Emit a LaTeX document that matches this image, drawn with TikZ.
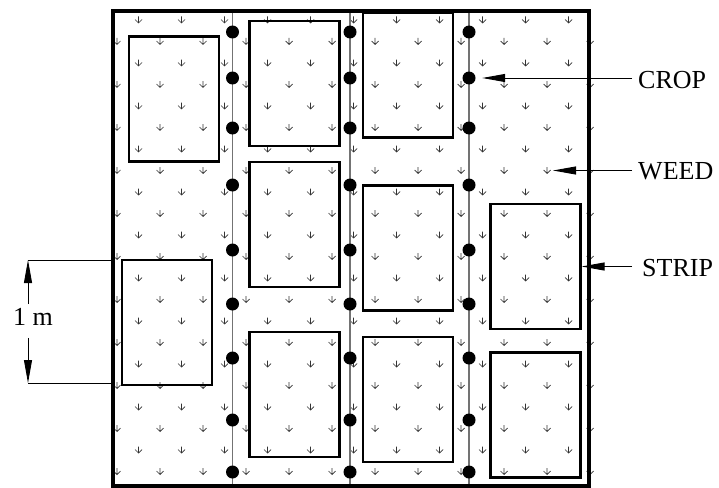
\documentclass[tikz,border=0pt]{standalone}
\usepackage{fontspec}
\setmainfont{Liberation Serif}
\usetikzlibrary{positioning,arrows.meta}
\tikzset{weed/.pic={\draw[line width=0.7pt, draw=black!80] (0,-3.5) -- (0,3) (-3.5,-0.5) -- (0,3) -- (3.5,-0.5);}}

\begin{document}
\begin{tikzpicture}[x=1pt, y=-1pt,
  lbl/.style={font=\fontsize{26}{30}\selectfont, inner xsep=6pt, inner ysep=0pt, anchor=west},
  strip/.style={draw, line width=2.2pt, minimum width=90pt, minimum height=125pt, inner sep=0pt},
  cropdot/.style={circle, fill, inner sep=0pt, minimum size=13pt},
  rowline/.style={draw=black!55, line width=1.1pt},
  dimln/.style={line width=0.8pt},
  arr/.style={-{Triangle[length=23pt, width=8pt]}, line width=0.9pt}
]
\useasboundingbox (0,0) rectangle (719,487);

\foreach \j in {0,...,21} {
  \pgfmathtruncatemacro\ia{mod(\j+1,2)}
  \pgfmathtruncatemacro\ib{\ia+2}
  \foreach \i in {\ia,\ib,...,22} {
    \coordinate (w-\i-\j) at (117+21.5*\i, 20+21.5*\j);
    \pic at (w-\i-\j) {weed};
  }
}

\foreach \cx in {232.5,350,469} \draw[rowline] (\cx,11) -- (\cx,486);

\node[strip] (s1a) at (174,99) {};
\node[strip] (s1b) at (167,322.5) {};
\node[strip] (s2a) at (294.5,83.5) {};
\node[strip] (s2b) at (294.5,224.5) {};
\node[strip] (s2c) at (294.5,394.5) {};
\node[strip] (s3a) at (408,75) {};
\node[strip] (s3b) at (408,248) {};
\node[strip] (s3c) at (408,399.5) {};
\node[strip] (s4a) at (535.5,266.5) {};
\node[strip] (s4b) at (535.5,415) {};

\foreach \cx [count=\ci] in {232.5,350,469}
  \foreach \cy [count=\ri] in {32,78,128,185,250,304,358,420,472}
    \node[cropdot] (c\ci-\ri) at (\cx,\cy) {};

\node[draw, line width=3.5pt, minimum width=476pt, minimum height=475pt, inner sep=0pt] (field) at (351,248.5) {};

\node[lbl] (lcrop) at (632,80) {CROP};
\node[lbl] (lweed) at (632,171) {WEED};
\node[lbl, inner xsep=10pt] (lstrip) at (632,268) {STRIP};
\draw[arr, shorten >=6.5pt] (lcrop.west |- c3-2) -- (c3-2.east);
\draw[arr, shorten >=6pt] (lweed.west |- w-20-7) -- (w-20-7);
\draw[arr] (lstrip.west |- s4a.east) -- (s4a.east);

\coordinate (dtop) at (28,260);
\coordinate (dbot) at (28,383);
\draw[dimln] (dtop) -- (dtop -| field.west);
\draw[dimln] (dbot) -- (dbot -| field.west);
\node[font=\fontsize{26}{30}\selectfont, inner xsep=0pt, inner ysep=4pt] (len) at (33,317) {1 m};
\draw[arr] (len.north -| dtop) -- (dtop);
\draw[arr] ([yshift=-8pt]len.south -| dbot) -- (dbot);
\end{tikzpicture}
\end{document}
